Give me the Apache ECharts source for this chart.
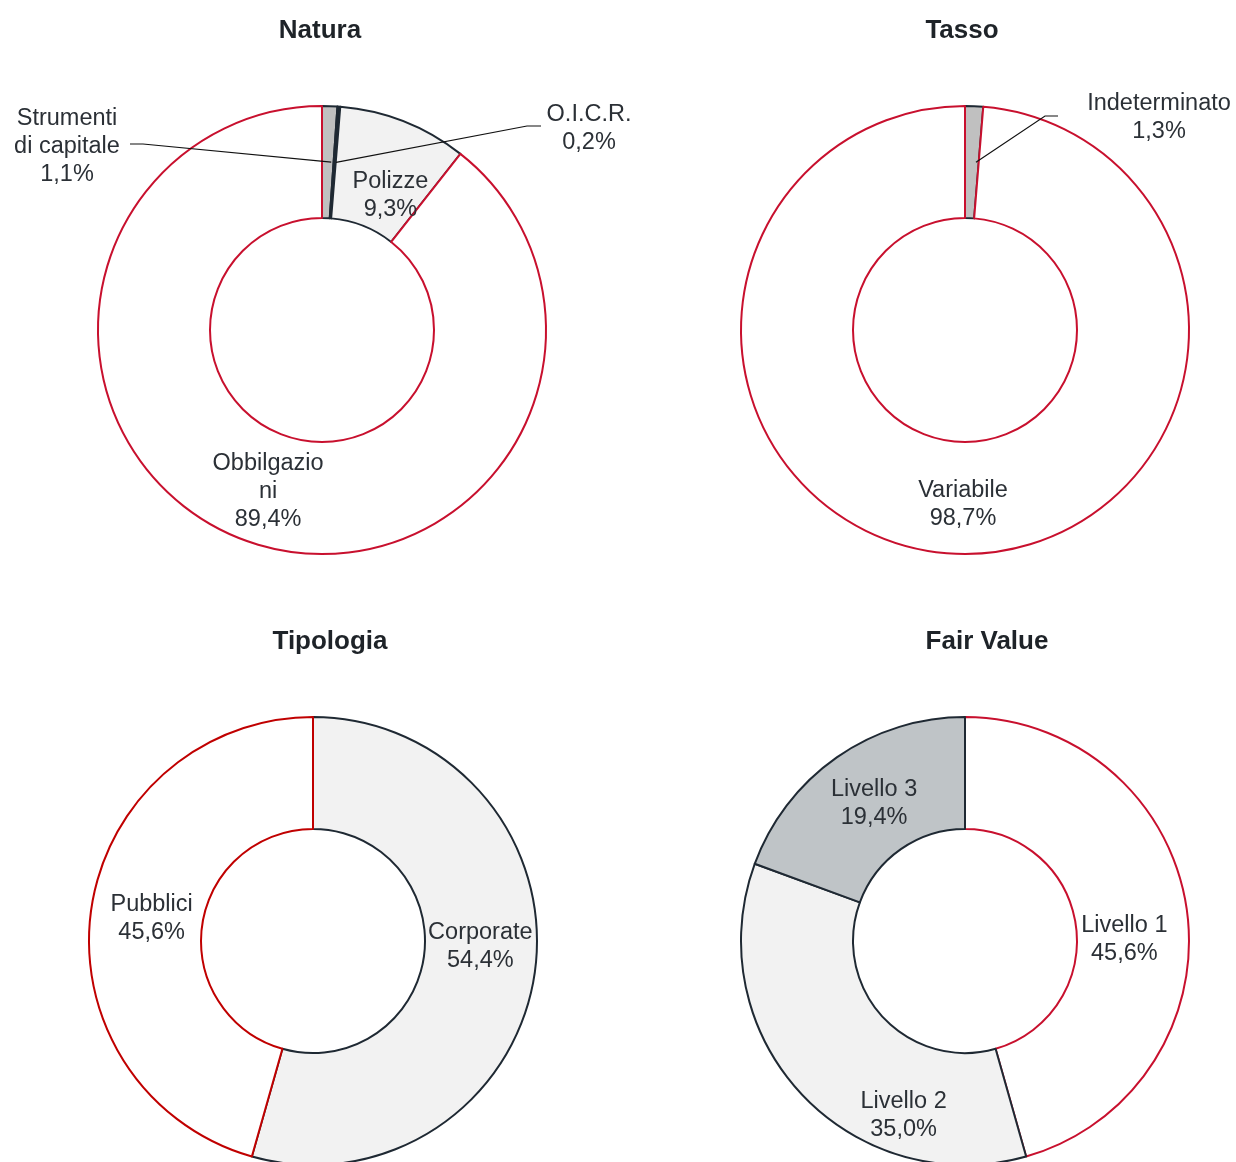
<!DOCTYPE html>
<html>
<head>
<meta charset="utf-8">
<script src="https://cdn.jsdelivr.net/npm/echarts@6/dist/echarts.min.js"></script>
<style>
  html, body { margin: 0; padding: 0; background: #fff; }
  #chart { width: 1236px; height: 1162px; }
</style>
</head>
<body>
<div id="chart"></div>
<script>
// dati (percentuali)
var naturaNames = ['Strumenti\ndi capitale', 'O.I.C.R.', 'Polizze', 'Obbilgazio\nni'];
var naturaValues = [1.1, 0.2, 9.3, 89.4];

var tassoNames = ['Indeterminato', 'Variabile'];
var tassoValues = [1.3, 98.7];

var tipologiaNames = ['Corporate', 'Pubblici'];
var tipologiaValues = [54.4, 45.6];

var fairNames = ['Livello 1', 'Livello 2', 'Livello 3'];
var fairValues = [45.6, 35.0, 19.4];

var titles = ['Natura', 'Tasso', 'Tipologia', 'Fair Value'];

// colori
var RED = '#c8102e', RED2 = '#c00000', DARK = '#1f2933';
var GREY = '#c0c0c0', GREY2 = '#bfc4c7', LIGHT = '#f2f2f2', WHITE = '#ffffff';
var TEXT = '#2b3036';
var FONT = 'Liberation Sans, Arial, sans-serif';

// [riempimento, bordo] per fetta
var naturaStyles = [[GREY, DARK], [DARK, DARK], [LIGHT, DARK], [WHITE, RED]];
var tassoStyles = [[GREY, DARK], [WHITE, RED]];
var tipologiaStyles = [[LIGHT, DARK], [WHITE, RED2]];
var fairStyles = [[WHITE, RED], [LIGHT, DARK], [GREY2, DARK]];

// spostamento etichette (come nel grafico originale)
var naturaMoves = [
  { x: 67, y: 147, line: [[143, 144], [130, 144]] },
  { x: 589, y: 129, line: [[527, 126], [541, 126]] },
  { dx: 6, dy: 25 },
  { dx: 2, dy: 0 }
];
var tassoMoves = [
  { x: 1159, y: 118, line: [[1045, 116], [1058, 116]] },
  { dx: 5, dy: 4 }
];
var tipologiaMoves = [{ dx: -2, dy: -18 }, { dx: 8, dy: 1 }];
var fairMoves = [{ dx: -10, dy: 22 }, { dx: 64, dy: 58 }, { dx: 7, dy: 3 }];

function fmt(p) {
  return p.name + '\n' + p.value.toFixed(1).replace('.', ',') + '%';
}

var labelStyle = {
  formatter: fmt,
  color: TEXT,
  fontFamily: FONT,
  fontSize: 23.5,
  lineHeight: 28,
  align: 'center'
};

function isOut(m) { return m.x != null; }

// anello con le etichette interne
function makePie(names, values, styles, moves, center) {
  return {
    type: 'pie',
    center: center,
    radius: [112, 224],
    startAngle: 90,
    clockwise: true,
    avoidLabelOverlap: false,
    silent: true,
    z: 2,
    label: Object.assign({ show: true, position: 'inside' }, labelStyle),
    labelLine: { show: false },
    labelLayout: function (p) {
      var m = moves[p.dataIndex];
      return { dx: m.dx, dy: m.dy };
    },
    data: names.map(function (n, i) {
      return {
        name: n,
        value: values[i],
        label: { show: !isOut(moves[i]) },
        itemStyle: { color: styles[i][0], borderColor: styles[i][1], borderWidth: 2 }
      };
    })
  };
}

// stesso anello trasparente sopra, solo per le etichette esterne con linea
function makeCallouts(names, values, moves, center) {
  return {
    type: 'pie',
    center: center,
    radius: [112, 224],
    startAngle: 90,
    clockwise: true,
    avoidLabelOverlap: false,
    silent: true,
    z: 3,
    itemStyle: { color: 'rgba(0,0,0,0)', borderWidth: 0 },
    label: Object.assign({ show: true, position: 'outside' }, labelStyle),
    labelLine: { show: true, length: 10, length2: 10, lineStyle: { color: '#111', width: 1.2 } },
    labelLayout: function (p) {
      var m = moves[p.dataIndex];
      if (!isOut(m)) return {};
      var a = [p.rect.x + p.rect.width * 0.6, p.rect.y + p.rect.height / 2];
      return {
        x: m.x, y: m.y, align: 'center', verticalAlign: 'middle',
        labelLinePoints: [a].concat(m.line)
      };
    },
    data: names.map(function (n, i) {
      var out = isOut(moves[i]);
      return {
        name: n,
        value: values[i],
        label: { show: out },
        labelLine: { show: out }
      };
    })
  };
}

var titlePos = [[320, 18], [962, 18], [330, 629], [987, 629]];

var chart = echarts.init(document.getElementById('chart'));
chart.setOption({
  animation: false,
  backgroundColor: '#fff',
  title: titles.map(function (t, i) {
    return {
      text: t, left: titlePos[i][0], top: titlePos[i][1], textAlign: 'center', padding: 0,
      textStyle: { fontFamily: FONT, fontSize: 26, fontWeight: 'bold', color: '#1e2328' }
    };
  }),
  series: [
    makePie(naturaNames, naturaValues, naturaStyles, naturaMoves, [322, 330]),
    makePie(tassoNames, tassoValues, tassoStyles, tassoMoves, [965, 330]),
    makePie(tipologiaNames, tipologiaValues, tipologiaStyles, tipologiaMoves, [313, 941]),
    makePie(fairNames, fairValues, fairStyles, fairMoves, [965, 941]),
    makeCallouts(naturaNames, naturaValues, naturaMoves, [322, 330]),
    makeCallouts(tassoNames, tassoValues, tassoMoves, [965, 330])
  ]
});
</script>
</body>
</html>
